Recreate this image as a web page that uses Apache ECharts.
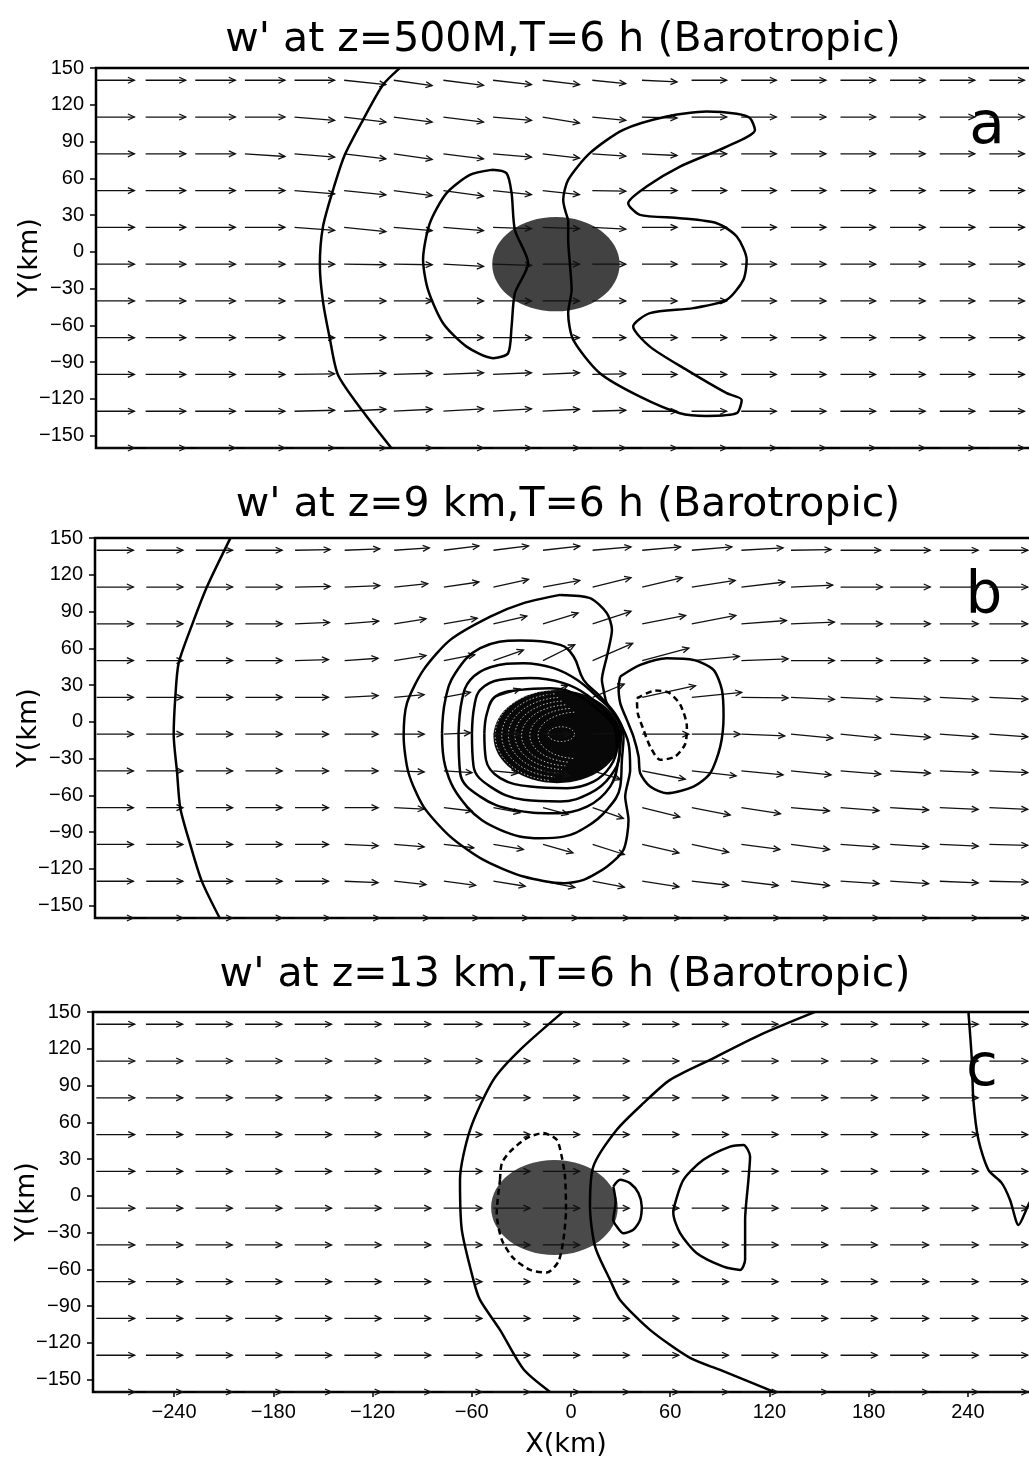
<!DOCTYPE html>
<html>
<head>
<meta charset="utf-8">
<script src="https://cdn.jsdelivr.net/npm/echarts@6/dist/echarts.min.js"></script>
<style>
  html, body { margin: 0; padding: 0; background: #fff; }
  #chart { width: 1029px; height: 1462px; }
</style>
</head>
<body>
<div id="chart"></div>
<script>
// ---------- axes ----------
const Y_TICKS = [-150, -120, -90, -60, -30, 0, 30, 60, 90, 120, 150];
const X_TICKS = [-240, -180, -120, -60, 0, 60, 120, 180, 240];
const Y_MIN = -160, Y_MAX = 150;
const X_MAX = 283;

// ---------- panel text ----------
const TITLES = [
  "w' at z=500M,T=6 h (Barotropic)",
  "w' at z=9 km,T=6 h (Barotropic)",
  "w' at z=13 km,T=6 h (Barotropic)"
];
const TAGS = ['a', 'b', 'c'];

// ---------- wind vectors (tail positions, km) ----------
const VEC_X = [-287, -257, -227, -197, -167, -137, -107, -77, -47, -17, 13, 43, 73, 103, 133, 163, 193, 223, 253];
const VEC_Y = [140, 110, 80, 50, 20, -10, -40, -70, -100, -130, -160];

// panel a: x-length per column, y-component per row
const U_A = [23.2, 24.2, 24.2, 24.2, 24.2, 25.2, 23.2, 24.2, 23.2, 22.2, 20.2, 21.2, 21.2, 21.2, 21.2, 21.2, 21.2, 21.2, 21.2];
const V_A = [
  [0, 0, 0, 0, 0, -3.5, -4.4, -4.1, -3.5, -3.5, -2.7, -1.4, 0, 0, 0, 0, 0, 0, 0],
  [0, 0, 0, 0, -2.7, -4.1, -4.1, -4.1, -2.7, -4.9, -2.7, -0.8, 0, 0, 0, 0, 0, 0, 0],
  [0, 0, 0, -2.2, -2.7, -4.1, -4.6, -4.1, -2.7, -3.5, -1.9, -1.4, 0, 0, 0, 0, 0, 0, 0],
  [0, 0, 0, 0, -2.7, -3.5, -4.1, -4.6, -3.3, -3.3, -0.5, 0, 0, 0, 0, 0, 0, 0, 0],
  [0, 0, 0, 0, -2.4, -3.5, -2.7, -2.7, -1.1, -1.0, -1.4, 0, 0, 0, 0, 0, 0, 0, 0],
  [0, 0, 0, 0, 0, -0.5, -0.5, -1.9, -1.0, 0, 0, 0, 0, 0, 0, 0, 0, 0, 0],
  [0, 0, 0, 0, 0, 0, 0, 0, 0, 0, 0, 0, 0, 0, 0, 0, 0, 0, 0],
  [0, 0, 0, 0, 0, 0, 0, 0, 0, 0, 0, 0, 0, 0, 0, 0, 0, 0, 0],
  [0, 0, 0, 0, 0.5, 1.0, 1.0, 1.4, 1.4, 1.4, 0.5, 0, 0, 0, 0, 0, 0, 0, 0],
  [0, 0, 0, 0, 0.8, 1.6, 1.6, 1.9, 1.9, 1.6, 0.8, 0, 0, 0, 0, 0, 0, 0, 0],
  [0, 0, 0, 0, 0, 0, 0, 0, 0, 0, 0, 0, 0, 0, 0, 0, 0, 0, 0]
];

// panel b: x and y components for every vector
const U_B = [
  [22.2, 22.2, 22.2, 22.2, 21.2, 21.2, 21.2, 21.2, 21.2, 22.2, 23.2, 23.2, 24.2, 25.2, 24.2, 24.2, 24.2, 23.2, 23.2],
  [22.2, 22.2, 22.2, 22.2, 21.2, 21.2, 20.2, 21.2, 21.2, 22.2, 23.2, 24.2, 26.2, 26.2, 25.2, 25.2, 24.2, 23.2, 23.2],
  [22.2, 22.2, 22.2, 22.2, 20.8, 20.6, 19.2, 20.2, 20.2, 21.2, 23.2, 26.2, 26.6, 27.2, 26.2, 25.2, 24.2, 23.2, 23.2],
  [22.2, 22.2, 22.2, 22.2, 20.2, 20.2, 19.2, 18.7, 18.1, 19.2, 24.2, 28.2, 28.7, 28.2, 26.2, 25.2, 24.2, 23.2, 23.2],
  [22.2, 22.2, 22.2, 22.2, 20.2, 20.2, 18.1, 16.1, 16.1, 15.1, 19.1, 32.2, 30.2, 28.2, 26.2, 25.2, 24.2, 23.2, 23.2],
  [22.2, 22.2, 22.2, 22.2, 20.2, 20.2, 18.1, 16.1, 16.1, 16.1, 17.9, 28.2, 29.2, 26.2, 25.2, 24.2, 24.2, 23.2, 23.2],
  [22.2, 22.2, 22.2, 22.2, 20.2, 20.2, 18.1, 17.1, 14.6, 16.1, 17.0, 26.0, 26.8, 25.2, 24.2, 24.2, 24.2, 23.2, 23.2],
  [22.2, 22.2, 22.2, 22.2, 20.2, 20.2, 18.1, 17.1, 16.1, 15.1, 18.6, 22.7, 23.2, 23.6, 23.2, 23.2, 23.2, 23.2, 23.2],
  [22.2, 22.2, 22.2, 22.2, 20.2, 20.2, 18.1, 18.1, 18.1, 18.1, 19.2, 22.2, 22.2, 23.2, 23.2, 23.2, 23.2, 23.2, 23.2],
  [22.2, 22.2, 22.2, 22.2, 20.2, 20.2, 19.2, 19.2, 19.2, 19.2, 19.2, 22.2, 22.2, 22.2, 23.2, 23.2, 23.2, 23.2, 23.2],
  [22.2, 22.2, 22.2, 22.2, 21.2, 21.2, 21.2, 21.2, 21.2, 21.2, 22.2, 23.2, 23.2, 23.2, 23.2, 23.2, 23.2, 23.2, 23.2]
];
const V_B = [
  [0, 0, 0, 0, 0.5, 1.1, 1.9, 3.5, 3.5, 3.3, 2.7, 2.7, 2.7, 1.9, 0.5, 0, 0, 0, 0],
  [0, 0, 0, 0, 0.5, 1.1, 2.7, 4.1, 6.3, 5.4, 7.6, 7.6, 5.4, 4.1, 1.6, 0, 0, 0, 0],
  [0, 0, 0, 0, 1.1, 2.2, 4.1, 4.6, 6.3, 8.8, 10.2, 6.8, 6.8, 2.7, 1.4, 0, 0, 0, 0],
  [0, 0, 0, 0, 0.8, 1.9, 4.1, 4.8, 8.6, 12.9, 14.0, 10.2, 3.4, 1.4, 0, 0, 0, 0, 0],
  [0, 0, 0, 0, 0, 1.4, 2.2, 4.1, 6.8, 10.0, 10.9, 9.5, 4.1, -0.5, -1.6, -1.6, -1.6, -1.6, -1.4],
  [0, 0, 0, 0, 0, 0, 0, 1.0, 0, 0, 1.0, 0, 0, -1.4, -3.3, -3.3, -2.7, -2.2, -2.2],
  [0, 0, 0, 0, 0, 0, -0.8, -1.4, -1.9, -4.0, -7.0, -6.8, -4.1, -3.3, -3.3, -2.7, -1.9, -1.4, -1.4],
  [0, 0, 0, 0, 0, 0, -1.1, -2.7, -4.1, -5.4, -8.8, -7.5, -6.0, -4.9, -2.7, -2.4, -1.9, -1.4, -1.4],
  [0, 0, 0, 0, 0, -1.1, -1.9, -2.7, -4.1, -6.8, -8.2, -6.8, -6.3, -4.1, -4.1, -2.2, -1.9, -1.4, -0.8],
  [0, 0, 0, 0, 0, -1.1, -2.7, -3.3, -4.1, -5.0, -4.9, -4.6, -3.3, -3.5, -3.5, -1.9, -1.9, -1.4, -0.8],
  [0, 0, 0, 0, 0, 0, 0, 0, 0, 0, 0, 0, 0, 0, 0, 0, 0, 0, 0]
];

// panel c: uniform westerly flow
const U_C = [23.2, 22.2, 22.2, 22.2, 22.2, 22.2, 22.2, 23.2, 22.2, 22.2, 22.2, 22.2, 22.2, 22.2, 22.2, 22.2, 23.2, 23.2, 23.2];
const V_C = [
  [0, 0, 0, 0, 0, 0, 0, 0, 0, 0, 0, 0, 0, 0, 0, 0, 0, 0, 0],
  [0, 0, 0, 0, 0, 0, 0, 0, 0, 0, 0, 0, 0, 0, 0, 0, 0, 0, 0],
  [0, 0, 0, 0, 0, 0, 0, 0, 0, 0, 0, 0, 0, 0, 0, 0, 0, 0, 0],
  [0, 0, 0, 0, 0, 0, 0, 0, 0, 0, 0, 0, 0, 0, 0, 0, 0, 0, 0],
  [0, 0, 0, 0, 0, 0, 0, 0, 0, 0, 0, 0, 0, 0, 0, 0, 0, 0, 0],
  [0, 0, 0, 0, 0, 0, 0, 0, 0, 0, 0, 0, 0, 0, 0, 0, 0, 0, 0],
  [0, 0, 0, 0, 0, 0, 0, 0, 0, 0, 0, 0, 0, 0, 0, 0, 0, 0, 0],
  [0, 0, 0, 0, 0, 0, 0, 0, 0, 0, 0, 0, 0, 0, 0, 0, 0, 0, 0],
  [0, 0, 0, 0, 0, 0, 0, 0, 0, 0, 0, 0, 0, 0, 0, 0, 0, 0, 0],
  [0, 0, 0, 0, 0, 0, 0, 0, 0, 0, 0, 0, 0, 0, 0, 0, 0, 0, 0],
  [0, 0, 0, 0, 0, 0, 0, 0, 0, 0, 0, 0, 0, 0, 0, 0, 0, 0, 0]
];

// ---------- heating core (shaded): [cx, cy, rx, ry] in km ----------
const CORE_A = [-9, -10, 38.5, 38.5];
const CORE_B = [-8.5, -12, 38.5, 38];
const CORE_C = [-10, -9.5, 38.3, 38.8];
// tightly packed inner contours of panel b: [cx, cy, rx, ry]
const INNER_B = [[-9, -11, 37, 37], [-7, -11, 35, 34], [-5, -11, 33, 31], [-3, -11, 31, 28], [-1, -11, 29, 25], [1.5, -11, 26.5, 22], [4, -11, 24, 19], [-6, -10, 8, 6]];

// ---------- w' contours, panel a ----------
const A_ARC = [[-103.4, 149.9], [-113.5, 136.3], [-125.6, 107.7], [-136.6, 79.2], [-143.7, 50.6], [-149.8, 20.6], [-151.7, -10.6], [-149.8, -40.6], [-145.7, -70.4], [-140.7, -100.4], [-125.6, -130.3], [-108.4, -160.2]];
const A_WEST = [[-47.9, 66.9], [-38.9, 64.2], [-35.8, 47.9], [-33.8, 17.9], [-25.8, -9.2], [-33.8, -33.7], [-35.8, -60.9], [-37.9, -82.7], [-47, -86.7], [-63, -77.3], [-77.2, -58.2], [-86.3, -31], [-89.3, -6.5], [-85.2, 23.4], [-75.1, 47.9], [-61, 62.8], [-47.9, 66.9]];
const A_EAST = [[-1.6, 26.1], [-4.6, 42.4], [-1.6, 58.7], [11.5, 80.5], [31.7, 99.5], [57.9, 110.4], [82.1, 114.5], [100.3, 112.6], [108.3, 109.1], [111.3, 99.5], [94.2, 85.9], [66.0, 69.6], [45.8, 53.3], [34.7, 39.7], [41.8, 30.2], [66.0, 27.5], [88.2, 23.4], [100.3, 12.5], [106.3, -6.5], [104.3, -22.8], [94.2, -39.2], [74.0, -45.9], [47.8, -50.0], [37.7, -60.9], [47.8, -77.3], [70.0, -96.3], [94.2, -115.3], [103.3, -120.8], [100.3, -131.6], [82.1, -133.8], [66.0, -131.6], [41.8, -118.1], [17.6, -99.0], [1.5, -71.8], [-1.6, -50.0], [0.5, -31.0], [-0.5, -10.6], [-1.6, 9.8], [-1.6, 26.1]];

// ---------- w' contours, panel b ----------
const B_ARC = [[-206.1, 149.9], [-220.2, 110.4], [-229.3, 79.1], [-237.4, 47.9], [-239.4, 20.6], [-240.4, -10.6], [-238.4, -40.6], [-236.4, -70.4], [-230.3, -100.4], [-223.3, -130.3], [-212.2, -161]];
const B_RING1 = [[-6.6, 103.6], [11.5, 101], [21.6, 88.7], [24.7, 75.1], [21.6, 53.3], [18.6, 34.3], [19.6, 26.1], [21.6, 15.3], [29.7, -1.1], [34.7, -17.4], [35.7, -39.2], [32.7, -60.9], [34.7, -80.0], [31.7, -104.4], [21.6, -118.1], [7.5, -128.9], [-4.6, -131.6], [-28.8, -126.2], [-53.0, -112.6], [-73.1, -93.6], [-89.3, -69.1], [-98.3, -41.9], [-101.3, -12.0], [-99.3, 15.3], [-89.3, 42.4], [-73.1, 66.9], [-48.9, 85.9], [-28.8, 96.9], [-6.6, 103.6]];
const B_RING2 = [[-78.1, -9.2], [-76.1, 18.0], [-70.1, 39.7], [-55, 60.1], [-30.8, 66.3], [-6.6, 62.8], [1.5, 53.3], [7.5, 34.3], [17.6, 20.6], [27.7, 4.3], [31.7, -12.0], [30.7, -31.0], [29.7, -52.8], [21.6, -71.8], [9.6, -85.4], [-4.6, -93.6], [-18.7, -94.9], [-42.9, -88.1], [-63, -69.1], [-76.1, -36.5], [-78.1, -9.2]];
const B_RING3 = [[-68.1, -9.2], [-66.0, 18.0], [-61.0, 34.3], [-48.9, 44.6], [-28.8, 47.9], [-10.6, 43.8], [3.5, 34.3], [15.6, 20.6], [25.6, 7.1], [30.1, -9.2], [28.7, -31.0], [23.6, -52.8], [9.6, -69.1], [-10.6, -74.5], [-34.8, -71.8], [-55, -61.0], [-67.1, -41.9], [-68.1, -9.2]];
const B_RING4 = [[-60.0, -9.2], [-58.6, 12.5], [-55, 26.1], [-42.9, 34.3], [-24.7, 35.7], [-4.6, 31.6], [9.6, 22.0], [21.6, 7.1], [28.7, -7.9], [29.3, -25.5], [23.6, -44.6], [11.5, -58.2], [-6.6, -65.0], [-28.8, -63.6], [-48.9, -52.8], [-59.0, -36.5], [-60.0, -9.2]];
const B_RING5 = [[-52.5, -9.2], [-50.9, 7.1], [-45.9, 20.6], [-30.8, 26.1], [-12.6, 27.5], [3.5, 22.0], [17.6, 8.4], [26.7, -6.5], [27.7, -20.2], [23.6, -36.5], [13.5, -48.7], [-2.5, -54.1], [-24.7, -52.8], [-42.9, -45.9], [-51.5, -31.0], [-52.5, -9.2]];
const B_EAST = [[29.7, 37.0], [41.8, 46.5], [57.9, 52.0], [74.0, 50.6], [86.1, 42.4], [91.2, 26.1], [92.2, 4.3], [90.2, -20.2], [84.1, -41.9], [74.0, -52.8], [57.9, -58.2], [47.8, -52.8], [41.8, -41.9], [40.8, -28.3], [37.7, -12.0], [33.7, 1.6], [29.7, 15.3], [28.7, 28.8], [29.7, 37.0]];
const B_EAST_NEG = [[39.8, 19.3], [50.9, 25.5], [58.9, 24.0], [66.0, 14.0], [70.0, -3.8], [69.0, -18.0], [62.9, -28.3], [53.9, -31.0], [47.8, -20.2], [43.8, -6.5], [40.3, 7.1], [39.8, 19.3]];

// ---------- w' contours, panel c ----------
const C_ARC_W = [[-4.8, 150.1], [-30.8, 119.1], [-46.9, 94.6], [-61.0, 53.9], [-67.1, 13.1], [-66.0, -27.7], [-59.0, -68.5], [-55.0, -84.9], [-42.9, -109.3], [-28.7, -141.4], [-12.6, -159.9]];
const C_ARC_E = [[147.6, 150.1], [114.4, 131.4], [84.1, 111.0], [59.9, 94.6], [43.8, 75.6], [27.7, 53.9], [13.5, 23.9], [11.5, -8.7], [14.6, -41.4], [23.6, -68.5], [29.7, -84.9], [47.8, -109.3], [72.0, -132.2], [90.2, -142.0], [122.4, -159.7]];
const C_SMALL = [[25.6, 7.6], [29.7, 13.1], [35.7, 10.4], [40.8, 2.2], [42.8, -8.7], [41.8, -19.6], [37.7, -27.7], [31.7, -30.5], [27.7, -25.0], [25.6, -19.6], [27.0, -5.0], [25.6, 7.6]];
const C_EAST = [[61.9, -11.4], [68.0, 13.1], [80.1, 29.4], [96.2, 40.2], [104.3, 41.6], [108.3, 32.1], [107.3, 13.1], [105.3, -19.6], [105.3, -52.2], [102.3, -60.4], [92.2, -57.7], [76.1, -46.8], [66.0, -30.4], [61.9, -14.1], [61.9, -11.4]];
const C_NEG = [[-42.9, 13.1], [-41.8, 26.7], [-36.8, 36.1], [-26.7, 47.1], [-16.7, 51.2], [-8.6, 45.7], [-5.6, 32.1], [-3.6, 15.7], [-3.0, -11.4], [-4.6, -35.9], [-7.6, -53.6], [-14.6, -62.6], [-24.7, -60.4], [-34.8, -50.8], [-41.8, -35.9], [-44.9, -14.1], [-42.9, 13.1]];
const C_FAR_E = [[240.3, 150.4], [242.4, 111.0], [243.3, 78.3], [246.4, 45.7], [252.4, 21.2], [260.5, 10.4], [265.5, -3.3], [270.6, -23.7], [276.6, -7.3], [283, 8]];

// ---------- layout of the three panels ----------
const PANELS = [
  { top: 68, left: 96, xMin: -287, U: (j, k) => U_A[k], V: V_A, core: CORE_A, coreColor: '#424242',
    contours: [{ d: A_ARC }, { d: A_WEST }, { d: A_EAST }], title: [563, 40], tag: [987, 128] },
  { top: 538, left: 95, xMin: -288, U: (j, k) => U_B[j][k], V: V_B, core: CORE_B, coreColor: '#080808',
    contours: [{ d: B_ARC }, { d: B_RING1 }, { d: B_RING2, s: 0.4 }, { d: B_RING3, s: 0.4 }, { d: B_RING4, s: 0.4 },
               { d: B_RING5, s: 0.4 }, { d: B_EAST }, { d: B_EAST_NEG, dashed: true }], title: [568, 505], tag: [984, 598] },
  { top: 1012, left: 93, xMin: -289, U: (j, k) => U_C[k], V: V_C, core: CORE_C, coreColor: '#4a4a4a',
    contours: [{ d: C_ARC_W }, { d: C_ARC_E }, { d: C_SMALL }, { d: C_EAST }, { d: C_NEG, dashed: true }, { d: C_FAR_E }],
    title: [565, 975], tag: [982, 1070] }
];

const fmt = v => (v < 0 ? '\u2212' + Math.abs(v) : String(v));

// arrow glyph: shaft plus open head, drawn in pixel space from data coords
function renderArrow(params, api) {
  const x = api.value(0), y = api.value(1), u = api.value(2), v = api.value(3);
  const p0 = api.coord([x, y]);
  const p1 = api.coord([x + u, y + v]);
  const dx = p1[0] - p0[0], dy = p1[1] - p0[1];
  const len = Math.hypot(dx, dy) || 1;
  const ux = dx / len, uy = dy / len;
  const hl = 6.5, hw = 3;
  const bx = p1[0] - ux * hl, by = p1[1] - uy * hl;
  const h1 = [bx - uy * hw, by + ux * hw];
  const h2 = [bx + uy * hw, by - ux * hw];
  return {
    type: 'group',
    children: [
      { type: 'line', shape: { x1: p0[0], y1: p0[1], x2: p1[0], y2: p1[1] },
        style: { stroke: '#111', lineWidth: 1.3 } },
      { type: 'polyline', shape: { points: [h1, p1, h2] },
        style: { stroke: '#111', lineWidth: 1.3, fill: null } }
    ]
  };
}

function makeCoreRenderer(color) {
  return function (params, api) {
    const cx = api.value(0), cy = api.value(1), rx = api.value(2), ry = api.value(3);
    const c = api.coord([cx, cy]);
    const ex = api.coord([cx + rx, cy]);
    const ey = api.coord([cx, cy + ry]);
    return {
      type: 'ellipse',
      shape: { cx: c[0], cy: c[1], rx: ex[0] - c[0], ry: c[1] - ey[1] },
      style: { fill: color }
    };
  };
}

// western half of each packed inner contour (the eastern half merges into black)
function renderInnerArc(params, api) {
  const cx = api.value(0), cy = api.value(1), rx = api.value(2), ry = api.value(3);
  const full = params.dataIndex === INNER_B.length - 1;
  const pts = [];
  const a0 = full ? 0 : 95, a1 = full ? 360 : 265;
  for (let a = a0; a <= a1; a += 5) {
    const t = a * Math.PI / 180;
    pts.push(api.coord([cx + rx * Math.cos(t), cy + ry * Math.sin(t)]));
  }
  return { type: 'polyline', shape: { points: pts },
           style: { stroke: '#d0d0d0', lineWidth: 0.9, lineDash: [1.5, 2], fill: null } };
}

const grids = [], xAxes = [], yAxes = [], series = [], graphics = [];

PANELS.forEach((p, i) => {
  grids.push({ left: p.left, top: p.top, right: -10, height: 380, show: true,
               outerBoundsMode: 'none', containLabel: false,
               borderColor: '#000', borderWidth: 2.5, backgroundColor: 'transparent' });
  const last = i === PANELS.length - 1;
  xAxes.push({
    gridIndex: i, type: 'value', min: p.xMin, max: X_MAX, position: 'bottom',
    axisLine: { show: false, onZero: false }, splitLine: { show: false },
    axisTick: { show: last, customValues: X_TICKS, length: 5, lineStyle: { color: '#000', width: 1.5 } },
    axisLabel: { show: last, customValues: X_TICKS, formatter: fmt, color: '#000',
                 fontFamily: 'Liberation Sans', fontSize: 20, margin: 10 },
    name: last ? 'X(km)' : '', nameLocation: 'middle', nameGap: 39, nameMoveOverlap: false,
    nameTextStyle: { fontFamily: 'DejaVu Sans', fontSize: 27, color: '#000' }
  });
  yAxes.push({
    gridIndex: i, type: 'value', min: Y_MIN, max: Y_MAX, position: 'left',
    axisLine: { show: false, onZero: false }, splitLine: { show: false },
    axisTick: { show: true, customValues: Y_TICKS, length: 6, lineStyle: { color: '#000', width: 1.5 } },
    axisLabel: { customValues: Y_TICKS, formatter: fmt, color: '#000',
                 fontFamily: 'Liberation Sans', fontSize: 20, margin: 12 },
    name: 'Y(km)', nameLocation: 'middle', nameGap: 53, nameRotate: 90, nameMoveOverlap: false,
    nameTextStyle: { fontFamily: 'DejaVu Sans', fontSize: 27, color: '#000' }
  });

  // shaded core
  series.push({ type: 'custom', xAxisIndex: i, yAxisIndex: i, z: 1, clip: true,
                renderItem: makeCoreRenderer(p.coreColor), data: [p.core], silent: true });
  if (i === 1) {
    series.push({ type: 'custom', xAxisIndex: i, yAxisIndex: i, z: 2, clip: true,
                  renderItem: renderInnerArc, data: INNER_B, silent: true });
  }

  // vectors
  const arrows = [];
  VEC_Y.forEach((y, j) => {
    VEC_X.forEach((x, k) => {
      arrows.push([x, y, p.U(j, k), p.V[j][k]]);
    });
  });
  series.push({ type: 'custom', xAxisIndex: i, yAxisIndex: i, z: 3, clip: false,
                renderItem: renderArrow, data: arrows, silent: true });

  // contours
  p.contours.forEach(c => {
    series.push({
      type: 'line', xAxisIndex: i, yAxisIndex: i, z: 4, data: c.d,
      symbol: 'none', smooth: c.s || 0.25, clip: true, silent: true,
      lineStyle: { color: '#000', width: 2.5, type: c.dashed ? [6, 4] : 'solid' }
    });
  });

  graphics.push({ type: 'text', x: p.title[0], y: p.title[1], silent: true,
                  style: { text: TITLES[i], font: '41px "DejaVu Sans"', fill: '#000',
                           align: 'center', verticalAlign: 'middle' } });
  graphics.push({ type: 'text', x: p.tag[0], y: p.tag[1], silent: true,
                  style: { text: TAGS[i], font: '58px "DejaVu Sans"', fill: '#000',
                           align: 'center', verticalAlign: 'middle' } });
});

const chart = echarts.init(document.getElementById('chart'), null, { renderer: 'canvas' });
chart.setOption({
  animation: false,
  backgroundColor: '#fff',
  grid: grids,
  xAxis: xAxes,
  yAxis: yAxes,
  series: series,
  graphic: graphics
});
</script>
</body>
</html>
